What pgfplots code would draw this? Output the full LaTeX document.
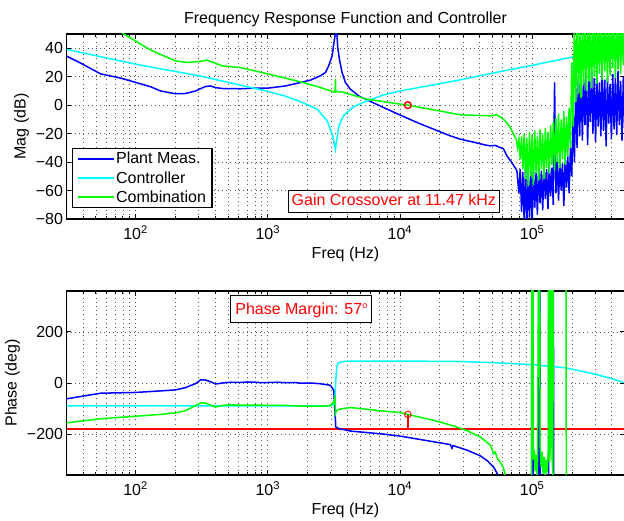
\documentclass[border=0pt]{standalone}
\usepackage{fontspec}
\setmainfont{Liberation Sans}
\usepackage{pgfplots}
\pgfplotsset{compat=1.18}
\definecolor{mblue}{rgb}{0,0,1}
\definecolor{mcyan}{rgb}{0,1,1}
\definecolor{mgreen}{rgb}{0,1,0}
\definecolor{mred}{rgb}{1,0,0}
\newcommand\fs{\fontsize{16}{19}\selectfont}
\pgfplotsset{
  legend image code/.code={\draw[#1, line width=1.5pt] (0pt,0pt) -- (36pt,0pt);},
  every axis/.append style={
  scale only axis, width=558pt,
  xmin=30, xmax=500000,
  xtick={100,1000,10000,100000},
  xticklabels={10\textsuperscript{2},10\textsuperscript{3},10\textsuperscript{4},10\textsuperscript{5}},
  minor xtick={40,50,60,70,80,90,200,300,400,500,600,700,800,900,2000,3000,4000,5000,6000,7000,8000,9000,20000,30000,40000,50000,60000,70000,80000,90000,200000,300000,400000},
  xmajorgrids, xminorgrids, ymajorgrids,
  major grid style={black!65, line width=0.6pt, dash pattern=on 0.9pt off 3.3pt},
  minor grid style={black!65, line width=0.6pt, dash pattern=on 0.9pt off 3.3pt},
  axis line style={black, line width=1.4pt},
  tick align=inside, tick pos=both,
  major tick length=5pt, minor tick length=3pt,
  every tick/.style={black, line width=0.8pt},
  tick label style={font=\fs},
  xticklabel style={yshift=-3pt},
  label style={font=\fs},
  xlabel={Freq (Hz)},
 }
}
\begin{document}
\begin{tikzpicture}
\node[anchor=base, font=\fs] at (345.5pt,497.7pt) {Frequency Response Function and Controller};
% ---------------- magnitude ----------------
\begin{semilogxaxis}[at={(66.5pt,302pt)}, anchor=south west, height=185pt,
  ymin=-80, ymax=50,
  ytick={-80,-60,-40,-20,0,20,40},
  yticklabels={−80,−60,−40,−20,0,20,40},
  ylabel={Mag (dB)},
  legend style={at={(rel axis cs:0.0099,0.385)}, anchor=north west, draw=black, line width=1.2pt, fill=white,
    font=\fs, inner xsep=4.5pt, inner ysep=2.5pt, row sep=3pt, nodes={inner sep=1.5pt}},
  legend cell align=left,
]
\addplot[color=mblue, draw=mblue, line width=1.5pt] coordinates {
(30,34.5) (38.4,29.5) (54.3,22) (77.1,19) (100,16) (130,12.9) (154,10) (200,8) (239,8.2) (285,10) (335,13) (368,13.5) (403,12.3) (455,11.7) (622,11.5) (807,12) (1012,12) (1360,13.5) (1766,15.9) (2104,17.6) (2500,20.6) (2729,22.9) (2891,27.6) (3069,34.7) (3155,42.9) (3250,50.5) (3296,58) (3383,40.5) (3502,31.1) (3652,22.9) (3865,15.9) (4217,11.2) (4873,6.5) (5636,3.7) (7530,-1.7) (10070,-7) (13460,-12.2) (17990,-16.9) (24040,-21.6) (28640,-23.9) (37150,-26.3) (44260,-28) (48200,-28.6) (52600,-28.3) (57400,-29.8) (60500,-30.5) (64570,-35.7) (70310,-40.4) (76740,-46)
(79430,-62) (81280,-45) (83180,-75) (85110,-47) (87100,-82) (89130,-44) (91200,-86) (93330,-48) (95500,-79) (97720,-46)
(100000,-84) (102300,-45) (104700,-72) (107200,-47) (109600,-77) (112200,-44) (114800,-69) (117500,-46) (120200,-74) (123000,-43)
(125900,-66) (128800,-45) (131800,-73) (134900,-42) (138000,-64) (141300,-44) (144500,-70) (147900,16) (151400,-62) (154900,-40)
(158500,-67) (162200,-39) (166000,-60) (169800,-41) (173800,-71) (177800,-37) (182000,-58) (186200,-36) (190500,-62) (195000,-30)
(199500,-50) (204200,-5) (208900,-40) (213800,12) (218800,-30) (223900,20) (229100,-22) (234400,24) (239900,-25) (245500,18)
(251200,-14) (257000,22) (263000,-28) (269200,17) (275400,-12) (281800,25) (288400,-20) (295100,19) (302000,-26) (309000,21)
(316200,-15) (323600,16) (331100,-22) (338800,23) (346700,-18) (354800,18) (363100,-29) (371500,20) (380200,-13) (389000,15)
(398100,-24) (407400,22) (416900,-17) (426600,19) (436500,-21) (446700,24) (457100,-14) (467700,17) (478600,-25) (489800,20) (501200,-16)
};
\addlegendentry{Plant Meas.}
\addplot[color=mcyan, draw=mcyan, line width=1.5pt] coordinates {
(30,39.2) (100,28.8) (310,20.4) (1012,9.6) (1360,6.3) (1766,2.5) (2360,-2.8) (2812,-11) (3069,-20.4) (3194,-27.5) (3250,-31) (3300,-26.5) (3349,-22.8) (3443,-14.6) (3736,-7.5) (4446,-1.2) (5636,3) (7530,7.2) (10070,10) (28640,17.8) (48200,22.2) (100000,28) (205600,34) (500000,39.6)
};
\addlegendentry{Controller}
\addplot[color=mgreen, draw=mgreen, line width=1.5pt] coordinates {
(60,58) (81.6,50) (130,38.7) (200,31.1) (246,30) (300,30.6) (348,31.6) (400,29.5) (452,27.6) (622,26.4) (1018,21.8) (1766,16.4) (2500,12.4) (3155,9.3) (3230,9.2) (3250,18.3) (3270,9.5) (3652,9.3) (4217,7.5) (5636,4.2) (10070,0.7) (11470,0) (17990,-3.3) (28640,-6.8) (48200,-7.5) (51000,-7.3) (53500,-6.7) (55500,-7.6) (57400,-8.2) (62650,-11.1) (68300,-15.7) (74500,-22.8)
(75860,-24) (77620,-30) (79430,-24) (81280,-38) (83180,-22) (85110,-45) (87100,-20) (89130,-52) (91200,-23) (93330,-57) (95500,-19) (97720,-50)
(100000,-21) (102300,-56) (104700,-18) (107200,-48) (109600,-22) (112200,-53) (114800,-17) (117500,-45) (120200,-20) (123000,-52)
(125900,-16) (128800,-44) (131800,-19) (134900,-48) (138000,-14) (141300,-42) (144500,-12) (147900,-46) (151400,-9) (154900,-40)
(158500,-6) (162200,-44) (166000,-10) (169800,-38) (173800,-4) (177800,-42) (182000,-8) (186200,-36) (190500,-2) (195000,-30)
(199500,30) (204200,-15) (208900,60) (213800,2) (218800,60) (223900,8) (229100,60) (234400,5) (239900,60) (245500,14)
(251200,60) (257000,10) (263000,60) (269200,17) (275400,60) (281800,12) (288400,60) (295100,20) (302000,60) (309000,15)
(316200,60) (323600,22) (331100,60) (338800,18) (346700,60) (354800,24) (363100,60) (371500,16) (380200,60) (389000,21)
(398100,60) (407400,26) (416900,60) (426600,19) (436500,60) (446700,25) (457100,60) (467700,22) (478600,60) (489800,28) (501200,60)
};
\addlegendentry{Combination}
\addplot[mred, only marks, mark=o, mark size=3.4pt, mark options={line width=1.4pt}, forget plot] coordinates {(11470,0)};
\node[draw=black, line width=1.2pt, fill=white, text=mred, font=\fs, text height=12pt, text depth=3.5pt, inner ysep=3pt, inner xsep=3.5pt]
  at (rel axis cs:0.5866,0.0946) {Gain Crossover at 11.47 kHz};
\end{semilogxaxis}
% ---------------- phase ----------------
\begin{semilogxaxis}[at={(66.5pt,46pt)}, anchor=south west, height=184pt,
  ymin=-360, ymax=360,
  ytick={-200,0,200},
  yticklabels={−200,0,200},
  ylabel={Phase (deg)},
]
\addplot[mred, line width=1.4pt] coordinates {(30,-180) (500000,-180)};
\addplot[mblue, line width=1.5pt] coordinates {
(30,-62) (54.3,-40) (100,-37) (154,-31) (200,-27) (239,-18) (285,-2) (310,12) (335,12) (368,5) (403,-4) (455,0) (523,3) (622,2) (700,4) (807,3) (900,1) (1012,2) (1200,3) (1360,1) (1600,2) (1766,-1) (2104,0) (2500,-3) (2978,-9) (3155,-28) (3230,-120) (3270,-172) (3443,-178) (4217,-188) (7530,-200) (10070,-208) (17990,-230) (24040,-241) (24770,-255) (25200,-245) (32300,-263) (40550,-285) (46000,-305) (51300,-330) (54500,-355) (56300,-372)
(99000,-400) (99600,400) (101300,400) (102000,-400) (111800,-400) (112200,400) (114500,400) (115000,-400) (133200,-400) (133700,400) (145000,400) (145400,-400)
};
\addplot[mcyan, line width=1.5pt] coordinates {
(30,-90) (2978,-90) (3155,-84) (3230,-65) (3260,0) (3300,40) (3349,70) (3443,79) (3736,84) (4217,86) (10070,86) (28640,84) (48200,80) (100000,72) (181100,59) (308300,33) (400000,17) (500000,1)
};
\addplot[mgreen, line width=1.5pt] coordinates {
(30,-156) (54.3,-140) (100,-130) (154,-123) (200,-117) (239,-108) (285,-88) (310,-78) (335,-78) (368,-86) (403,-94) (455,-88) (523,-85) (622,-87) (807,-86) (1012,-88) (1360,-88) (1766,-90) (2500,-91) (2978,-88) (3155,-74) (3230,-60) (3250,-120) (3300,-110) (3443,-103) (4217,-96) (7530,-110) (10070,-116) (11470,-123) (17990,-146) (25470,-168) (32300,-187) (40550,-211) (48200,-243) (50000,-262) (51300,-276) (52500,-270) (54500,-295) (57400,-310) (60500,-330) (62650,-360) (64000,-375)
(99000,-400) (99500,400) (101500,400) (102300,-300) (104000,-262) (105500,-345) (107000,-280) (108500,-370) (110000,-300) (111700,400) (114000,400) (115100,-250) (117000,-330) (119000,-270) (121000,-355) (123500,-290) (126000,-380) (128000,-300) (130000,-350) (132500,-260) (133000,400) (135000,400) (135600,-310) (137500,-240) (139000,400) (141000,400) (142000,-300) (143500,-360) (144500,400) (180800,400) (181400,-400)
};
\addplot[mred, line width=1.8pt] coordinates {(11470,-180) (11470,-126)};
\addplot[mred, only marks, mark=o, mark size=3.3pt, mark options={line width=0.9pt}] coordinates {(11470,-123)};
\node[draw=black, line width=1.2pt, fill=white, text=mred, font=\fs, text height=15pt, text depth=4pt, inner ysep=4pt, inner xsep=4.5pt]
  at (rel axis cs:0.4208,0.901) {Phase Margin: 57\raisebox{6.5pt}{\fontsize{9}{9}\selectfont o}};
\end{semilogxaxis}
\pgfresetboundingbox
\path[use as bounding box] (0,0) rectangle (624pt,521pt);
\end{tikzpicture}
\end{document}
